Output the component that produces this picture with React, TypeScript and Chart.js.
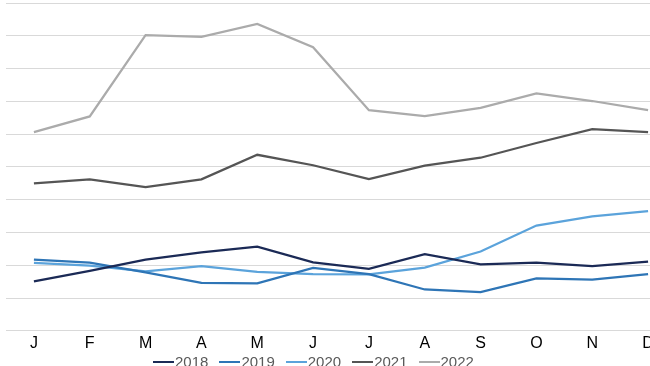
import React, { useEffect, useRef } from "react";
import { Chart, registerables } from "chart.js";

Chart.register(...registerables);

const months = ["J", "F", "M", "A", "M", "J", "J", "A", "S", "O", "N", "D"];
const seriesNames = ["2018", "2019", "2020", "2021", "2022"];
const values2018 = [15.1, 18.3, 21.7, 23.9, 25.7, 20.9, 18.9, 23.4, 20.3, 20.8, 19.7, 21.1];
const values2019 = [21.7, 20.8, 17.8, 14.6, 14.5, 19.2, 17.3, 12.6, 11.8, 16.0, 15.6, 17.3];
const values2020 = [20.7, 19.9, 18.1, 19.7, 18.0, 17.3, 17.2, 19.3, 24.2, 32.1, 34.9, 36.5];
const values2021 = [45.0, 46.2, 43.8, 46.2, 53.7, 50.5, 46.3, 50.4, 52.8, 57.3, 61.5, 60.6];
const values2022 = [60.6, 65.4, 90.2, 89.7, 93.6, 86.5, 67.3, 65.5, 68.0, 72.4, 70.1, 67.3];
const seriesValues = [values2018, values2019, values2020, values2021, values2022];
const seriesColors = ["#1B2A56", "#2E75B6", "#5BA3DB", "#555555", "#ABABAB"];

export default function App() {
  const canvasRef = useRef<HTMLCanvasElement | null>(null);

  useEffect(() => {
    const canvas = canvasRef.current;
    if (!canvas) return;
    const chart = new Chart(canvas, {
      type: "line",
      data: {
        labels: months,
        datasets: seriesNames.map((name, i) => ({
          label: name,
          data: seriesValues[i],
          borderColor: seriesColors[i],
          backgroundColor: seriesColors[i],
          borderWidth: 2.25,
          pointRadius: 0,
          tension: 0,
          fill: false,
        })),
      },
      options: {
        animation: false,
        responsive: false,
        devicePixelRatio: 1,
        layout: { padding: { left: 6, right: 0, top: 3, bottom: 0 } },
        plugins: {
          legend: { display: false },
          tooltip: { enabled: false },
        },
        scales: {
          x: {
            offset: true,
            grid: { display: false, drawTicks: false },
            border: { display: false },
            ticks: {
              autoSkip: false,
              maxRotation: 0,
              padding: 3,
              color: "#000000",
              font: { family: "'Liberation Sans', Arial, sans-serif", size: 16 },
            },
          },
          y: {
            min: 0,
            max: 100,
            grid: { color: "#D9D9D9", lineWidth: 1, drawTicks: false },
            border: { display: false },
            ticks: { display: false, stepSize: 10 },
          },
        },
      },
    });
    return () => chart.destroy();
  }, []);

  return (
    <div
      style={{
        position: "fixed",
        left: 0,
        top: 0,
        width: 650,
        height: 366,
        overflow: "hidden",
        background: "#fff",
      }}
    >
      <canvas ref={canvasRef} width={676} height={356} style={{ display: "block" }} />
      <div
        style={{
          position: "absolute",
          left: 153,
          top: 354,
          display: "flex",
          gap: 11,
          fontFamily: "'Liberation Sans', Arial, sans-serif",
          fontSize: 15,
          lineHeight: "15px",
          color: "#595959",
          whiteSpace: "nowrap",
        }}
      >
        {seriesNames.map((name, i) => (
          <div key={name} style={{ display: "flex", alignItems: "center" }}>
            <span
              style={{
                display: "inline-block",
                width: 21,
                height: 2,
                background: seriesColors[i],
                marginRight: 1,
              }}
            />
            <span>{name}</span>
          </div>
        ))}
      </div>
    </div>
  );
}
